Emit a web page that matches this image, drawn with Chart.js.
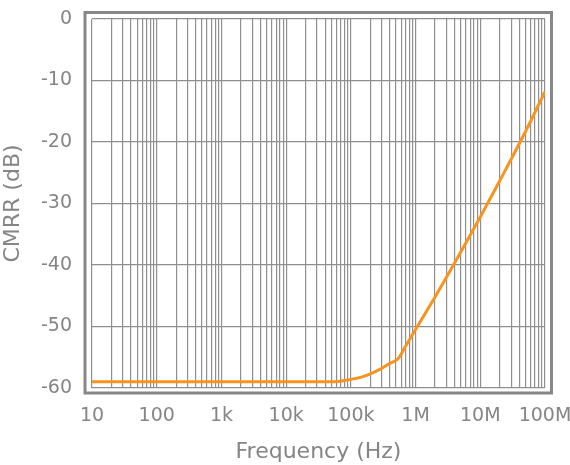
<!DOCTYPE html>
<html>
<head>
<meta charset="utf-8">
<script src="https://cdn.jsdelivr.net/npm/chart.js@4"></script>
<style>
html,body{margin:0;padding:0;background:#fff;}
#wrap{width:570px;height:465px;position:relative;}
</style>
</head>
<body>
<div id="wrap"><canvas id="c"></canvas></div>
<script>
const freqHz = [10, 100, 1000, 10000, 50000, 100000, 150000, 200000, 300000, 400000, 540000, 700000, 1000000, 1500000, 2000000, 3000000, 5000000, 10000000, 20000000, 50000000, 100000000];
const cmrrDb = [-59, -59, -59, -59, -59, -58.6, -58.2, -57.7, -56.8, -56, -55.2, -53.2, -50.5, -47.4, -45.2, -42.0, -37.9, -32.2, -26.3, -18.3, -11.8];
const xDecades = [10, 100, 1000, 10000, 100000, 1000000, 10000000, 100000000];
const xTickLabels = ['10', '100', '1k', '10k', '100k', '1M', '10M', '100M'];
const yTicks = [0, -10, -20, -30, -40, -50, -60];

const FONT = "'DejaVu Sans', sans-serif";
const GREY = '#858585';

const framePlugin = {
  id: 'frame',
  afterDraw(chart) {
    const a = chart.chartArea, ctx = chart.ctx;
    ctx.save();
    ctx.strokeStyle = '#878787';
    ctx.lineWidth = 3;
    ctx.strokeRect(a.left - 7, a.top - 6.5, (a.right - a.left) + 13.5, (a.bottom - a.top) + 11.5);
    ctx.restore();
  }
};

new Chart(document.getElementById('c'), {
  type: 'line',
  data: {
    datasets: [{
      data: freqHz.map((f, i) => ({x: f, y: cmrrDb[i]})),
      borderColor: '#F7941D',
      borderWidth: 3,
      pointRadius: 0,
      cubicInterpolationMode: 'monotone',
      fill: false
    }]
  },
  options: {
    responsive: true,
    maintainAspectRatio: false,
    animation: false,
    layout: {padding: {left: 0, top: 19, right: 25, bottom: 0}},
    plugins: {legend: {display: false}, tooltip: {enabled: false}},
    scales: {
      x: {
        type: 'logarithmic',
        min: 10, max: 100000000,
        afterBuildTicks(scale) {
          const t = [];
          for (let d = 0; d < xDecades.length; d++) {
            const base = xDecades[d];
            t.push({value: base});
            if (d < xDecades.length - 1) for (let m = 2; m <= 9; m++) t.push({value: base * m});
          }
          scale.ticks = t;
        },
        afterFit(scale) { scale.height = 77; scale.paddingLeft = 0; scale.paddingRight = 0; },
        ticks: {
          autoSkip: false, maxRotation: 0, padding: 17,
          color: GREY, font: {family: FONT, size: 19},
          callback(v) { const i = xDecades.indexOf(v); return i >= 0 ? xTickLabels[i] : ''; }
        },
        grid: {color: '#8f8f8f', lineWidth: 1.2, drawTicks: false},
        border: {display: false},
        title: {display: true, text: 'Frequency (Hz)', color: GREY, font: {family: FONT, size: 22}, padding: {top: 8, bottom: 0}}
      },
      y: {
        min: -60, max: 0,
        afterBuildTicks(scale) { scale.ticks = yTicks.map(v => ({value: v})); },
        afterFit(scale) { scale.width = 92; scale.paddingTop = 0; scale.paddingBottom = 0; },
        ticks: {padding: 20, color: GREY, font: {family: FONT, size: 19}},
        grid: {color: '#8f8f8f', lineWidth: 1.2, drawTicks: false},
        border: {display: false},
        title: {display: true, text: 'CMRR (dB)', color: GREY, font: {family: FONT, size: 22}, padding: {top: 0, bottom: 6}}
      }
    }
  },
  plugins: [framePlugin]
});
</script>
</body>
</html>
